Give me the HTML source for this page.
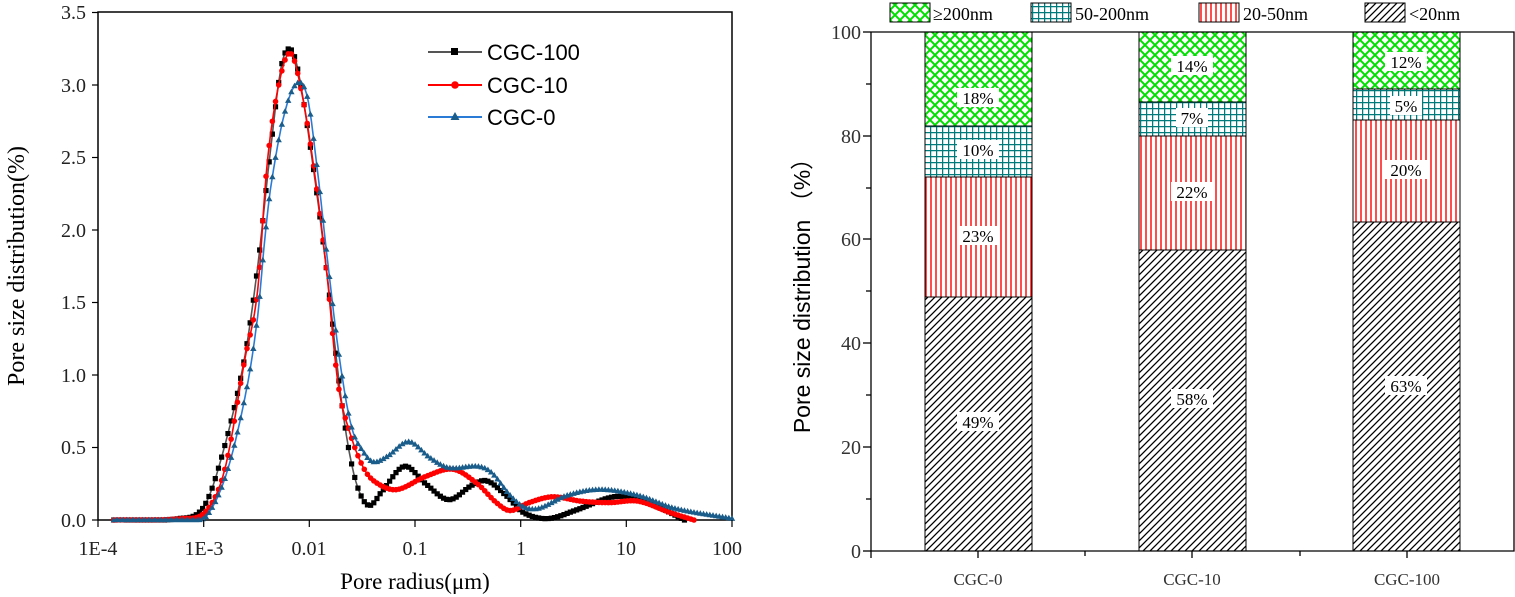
<!DOCTYPE html>
<html><head><meta charset="utf-8"><style>
html,body{margin:0;padding:0;background:#fff;}
svg{display:block;}
text{font-family:"Liberation Serif","Noto Serif CJK SC",serif;}
</style></head><body>
<svg id="s" width="1515" height="597" viewBox="0 0 1515 597" xmlns="http://www.w3.org/2000/svg">
<defs>
<pattern id="pg" width="10" height="10" patternUnits="userSpaceOnUse">
<rect width="10" height="10" fill="#fff"/><path d="M0,0L10,10M10,0L0,10" stroke="#00e000" stroke-width="2"/></pattern>
<pattern id="pt" width="6" height="6" patternUnits="userSpaceOnUse">
<rect width="6" height="6" fill="#fff"/><path d="M0,0.5H6M0.5,0V6" stroke="#007a7a" stroke-width="1.5"/></pattern>
<pattern id="pr" width="5" height="5" patternUnits="userSpaceOnUse">
<rect width="5" height="5" fill="#fff"/><path d="M1,0V5" stroke="#ff0000" stroke-width="1.4"/></pattern>
<pattern id="pb" width="7" height="7" patternUnits="userSpaceOnUse">
<rect width="7" height="7" fill="#fff"/><path d="M-1,8L8,-1M-4,4L4,-4M3,11L11,3" stroke="#000" stroke-width="1.3"/></pattern>
</defs>

<!-- LEFT CHART -->
<rect x="98" y="12" width="634" height="508" fill="none" stroke="#000" stroke-width="1.5"/>
<g id="curves"></g>
<g stroke="#000" stroke-width="1.2">
<line x1="92" y1="520" x2="98" y2="520"/><line x1="92" y1="447.5" x2="98" y2="447.5"/><line x1="92" y1="375" x2="98" y2="375"/><line x1="92" y1="302.5" x2="98" y2="302.5"/><line x1="92" y1="230" x2="98" y2="230"/><line x1="92" y1="157.5" x2="98" y2="157.5"/><line x1="92" y1="85" x2="98" y2="85"/><line x1="92" y1="12.5" x2="98" y2="12.5"/>
<line x1="98" y1="520" x2="98" y2="527"/><line x1="203.7" y1="520" x2="203.7" y2="527"/><line x1="309.3" y1="520" x2="309.3" y2="527"/><line x1="415" y1="520" x2="415" y2="527"/><line x1="520.7" y1="520" x2="520.7" y2="527"/><line x1="626.3" y1="520" x2="626.3" y2="527"/><line x1="732" y1="520" x2="732" y2="527"/>
</g>
<g font-size="20" text-anchor="end" fill="#222">
<text x="86" y="527">0.0</text><text x="86" y="454">0.5</text><text x="86" y="382">1.0</text><text x="86" y="309">1.5</text><text x="86" y="237">2.0</text><text x="86" y="164">2.5</text><text x="86" y="92">3.0</text><text x="86" y="19">3.5</text>
</g>
<g font-size="20" text-anchor="middle" fill="#222">
<text x="98" y="555">1E-4</text><text x="204" y="555">1E-3</text><text x="309" y="555">0.01</text><text x="415" y="555">0.1</text><text x="521" y="555">1</text><text x="626" y="555">10</text><text x="727" y="555">100</text>
</g>
<text x="415" y="589" font-size="23" text-anchor="middle">Pore radius(μm)</text>
<text transform="translate(24,266) rotate(-90)" font-size="24" text-anchor="middle">Pore size distribution(%)</text>
<g>
<line x1="428" y1="52" x2="482" y2="52" stroke="#555" stroke-width="2"/><rect x="451" y="48" width="7" height="7" fill="#000"/>
<text x="487" y="60" font-size="22" style="font-family:'Liberation Sans',sans-serif">CGC-100</text>
<line x1="428" y1="85" x2="482" y2="85" stroke="#ff0000" stroke-width="2"/><circle cx="455" cy="85" r="3.8" fill="#ff0000"/>
<text x="487" y="93" font-size="22" style="font-family:'Liberation Sans',sans-serif">CGC-10</text>
<line x1="428" y1="117" x2="482" y2="117" stroke="#2a7bd6" stroke-width="2"/><path d="M455,112L459.5,120H450.5Z" fill="#1a5c8a"/>
<text x="487" y="125" font-size="22" style="font-family:'Liberation Sans',sans-serif">CGC-0</text>
</g>

<!-- RIGHT CHART -->
<g stroke="#000" stroke-width="1">
<rect x="925" y="297" width="107" height="254" fill="url(#pb)"/>
<rect x="925" y="177" width="107" height="120" fill="url(#pr)"/>
<rect x="925" y="126" width="107" height="51" fill="url(#pt)"/>
<rect x="925" y="32" width="107" height="94" fill="url(#pg)"/>
<rect x="1139" y="250" width="107" height="301" fill="url(#pb)"/>
<rect x="1139" y="136" width="107" height="114" fill="url(#pr)"/>
<rect x="1139" y="102" width="107" height="34" fill="url(#pt)"/>
<rect x="1139" y="32" width="107" height="70" fill="url(#pg)"/>
<rect x="1353" y="222" width="107" height="329" fill="url(#pb)"/>
<rect x="1353" y="120" width="107" height="102" fill="url(#pr)"/>
<rect x="1353" y="89" width="107" height="31" fill="url(#pt)"/>
<rect x="1353" y="32" width="107" height="57" fill="url(#pg)"/>
</g>
<g stroke="#000" stroke-width="1.3" fill="none">
<path d="M871,32V551H1514V32H871"/>
<line x1="863" y1="551" x2="871" y2="551"/><line x1="863" y1="447" x2="871" y2="447"/><line x1="863" y1="343" x2="871" y2="343"/><line x1="863" y1="239" x2="871" y2="239"/><line x1="863" y1="136" x2="871" y2="136"/><line x1="863" y1="32" x2="871" y2="32"/>
<line x1="866" y1="499" x2="871" y2="499"/><line x1="866" y1="395" x2="871" y2="395"/><line x1="866" y1="291" x2="871" y2="291"/><line x1="866" y1="188" x2="871" y2="188"/><line x1="866" y1="84" x2="871" y2="84"/>
<line x1="871" y1="551" x2="871" y2="558"/><line x1="978" y1="551" x2="978" y2="558"/><line x1="1085" y1="551" x2="1085" y2="556"/><line x1="1192" y1="551" x2="1192" y2="558"/><line x1="1300" y1="551" x2="1300" y2="556"/><line x1="1407" y1="551" x2="1407" y2="558"/>
</g>
<g font-size="20" text-anchor="end" fill="#333">
<text x="861" y="558">0</text><text x="861" y="454">20</text><text x="861" y="350">40</text><text x="861" y="246">60</text><text x="861" y="143">80</text><text x="861" y="39">100</text>
</g>
<g font-size="17" text-anchor="middle" fill="#333" style="font-family:'Liberation Mono',monospace">
<text x="978" y="585">CGC-0</text><text x="1192" y="585">CGC-10</text><text x="1407" y="585">CGC-100</text>
</g>
<text transform="translate(810,290) rotate(-90)" font-size="23" text-anchor="middle" style="font-family:'Liberation Sans','Noto Sans CJK SC',sans-serif">Pore size distribution （%）</text>
<g font-size="17" text-anchor="middle">
<g fill="#fff"><rect x="957" y="88" width="42" height="19"/><rect x="957" y="140" width="42" height="19"/><rect x="957" y="226" width="42" height="19"/><rect x="957" y="412" width="42" height="19"/>
<rect x="1171" y="56" width="42" height="19"/><rect x="1176" y="108" width="32" height="19"/><rect x="1171" y="182" width="42" height="19"/><rect x="1171" y="389" width="42" height="19"/>
<rect x="1385" y="52" width="42" height="19"/><rect x="1390" y="96" width="32" height="19"/><rect x="1385" y="160" width="42" height="19"/><rect x="1385" y="376" width="42" height="19"/></g>
<text x="978" y="104">18%</text><text x="978" y="156">10%</text><text x="978" y="242">23%</text><text x="978" y="428">49%</text>
<text x="1192" y="72">14%</text><text x="1192" y="124">7%</text><text x="1192" y="198">22%</text><text x="1192" y="405">58%</text>
<text x="1406" y="68">12%</text><text x="1406" y="112">5%</text><text x="1406" y="176">20%</text><text x="1406" y="392">63%</text>
</g>
<g stroke="#000" stroke-width="1">
<rect x="890" y="3" width="40" height="19" fill="url(#pg)"/>
<rect x="1031" y="3" width="40" height="19" fill="url(#pt)"/>
<rect x="1199" y="3" width="40" height="19" fill="url(#pr)"/>
<rect x="1365" y="3" width="40" height="19" fill="url(#pb)"/>
</g>
<g font-size="18">
<text x="933" y="20">≥200nm</text><text x="1075" y="20">50-200nm</text><text x="1243" y="20">20-50nm</text><text x="1409" y="20">&lt;20nm</text>
</g>
</svg>
<script>
var D={
k:[[-3.85,0],[-3.23,0.01],[-3.0,0.09],[-2.82,0.46],[-2.62,1.09],[-2.49,1.74],[-2.38,2.47],[-2.27,3.11],[-2.19,3.25],[-2.11,3.11],[-1.98,2.52],[-1.84,1.74],[-1.71,0.9],[-1.62,0.46],[-1.53,0.2],[-1.43,0.1],[-1.31,0.2],[-1.1,0.37],[-0.9,0.25],[-0.68,0.14],[-0.46,0.24],[-0.32,0.27],[-0.14,0.17],[0.03,0.05],[0.26,0.01],[0.53,0.07],[0.88,0.16],[1.11,0.14],[1.33,0.08],[1.55,0]],
r:[[-3.85,0],[-3.2,0.01],[-2.98,0.06],[-2.8,0.35],[-2.61,1.11],[-2.49,1.58],[-2.4,2.45],[-2.29,3.0],[-2.18,3.22],[-2.07,2.94],[-1.95,2.39],[-1.84,1.74],[-1.73,0.95],[-1.62,0.61],[-1.48,0.35],[-1.35,0.25],[-1.17,0.21],[-0.9,0.3],[-0.64,0.35],[-0.41,0.25],[-0.23,0.12],[-0.1,0.065],[0.08,0.12],[0.3,0.16],[0.57,0.13],[0.84,0.12],[1.11,0.13],[1.42,0.05],[1.64,0]],
b:[[-3.85,0],[-3.1,0.0],[-2.96,0.04],[-2.78,0.33],[-2.6,0.88],[-2.49,1.4],[-2.42,1.95],[-2.36,2.32],[-2.24,2.79],[-2.12,3.01],[-2.02,2.92],[-1.93,2.45],[-1.82,1.74],[-1.71,1.09],[-1.6,0.64],[-1.48,0.46],[-1.39,0.4],[-1.26,0.44],[-1.06,0.54],[-0.86,0.43],[-0.68,0.36],[-0.41,0.37],[-0.28,0.33],[-0.1,0.17],[0.03,0.09],[0.17,0.08],[0.44,0.17],[0.75,0.21],[1.11,0.17],[1.46,0.08],[2.0,0.01]]};
function interp(p,u){for(var i=0;i<p.length-1;i++){if(u<=p[i+1][0]){var p0=p[Math.max(i-1,0)],p1=p[i],p2=p[i+1],p3=p[Math.min(i+2,p.length-1)];var t=(u-p1[0])/(p2[0]-p1[0]);
var m1=(p2[1]-p0[1])/(p2[0]-p0[0]||1)*(p2[0]-p1[0]),m2=(p3[1]-p1[1])/(p3[0]-p1[0]||1)*(p2[0]-p1[0]);
var t2=t*t,t3=t2*t;var v=(2*t3-3*t2+1)*p1[1]+(t3-2*t2+t)*m1+(-2*t3+3*t2)*p2[1]+(t3-t2)*m2;return Math.max(0,v);}}return p[p.length-1][1];}
function X(u){return 98+105.67*(u+4);}function Y(v){return 520-145*v;}
var g=document.getElementById('curves'),NS='http://www.w3.org/2000/svg';
function draw(p,lc,mc,shape){var u0=p[0][0],u1=p[p.length-1][0],d='';for(var u=u0;u<=u1+1e-9;u+=0.01){d+=(d?'L':'M')+X(u).toFixed(1)+','+Y(interp(p,u)).toFixed(1);}
var pa=document.createElementNS(NS,'path');pa.setAttribute('d',d);pa.setAttribute('fill','none');pa.setAttribute('stroke',lc);pa.setAttribute('stroke-width','1.6');g.appendChild(pa);
var md='';for(var u=u0;u<=u1+1e-9;u+=0.03){var x=X(u),y=Y(interp(p,u));
if(shape=='s')md+='M'+(x-2.6)+','+(y-2.6)+'h5.2v5.2h-5.2z';
else if(shape=='c')md+='M'+(x-2.8)+','+y+'a2.8,2.8 0 1,0 5.6,0a2.8,2.8 0 1,0 -5.6,0z';
else md+='M'+x+','+(y-3.3)+'L'+(x+3.2)+','+(y+2.3)+'H'+(x-3.2)+'z';}
var m=document.createElementNS(NS,'path');m.setAttribute('d',md);m.setAttribute('fill',mc);g.appendChild(m);}
draw(D.k,'#555','#000','s');draw(D.r,'#ff0000','#ff0000','c');draw(D.b,'#2a7bd6','#1a5c8a','t');
</script>
</body></html>
